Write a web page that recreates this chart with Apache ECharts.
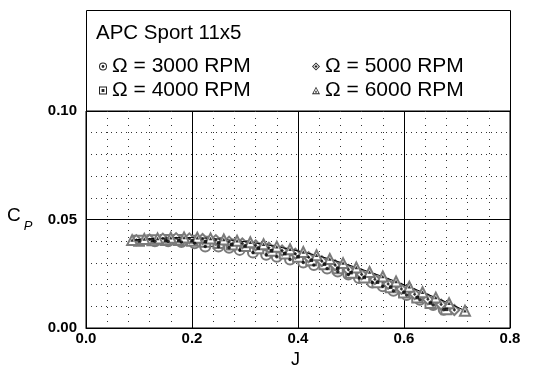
<!DOCTYPE html>
<html>
<head>
<meta charset="utf-8">
<script src="https://cdn.jsdelivr.net/npm/echarts@6/dist/echarts.min.js"></script>
<style>html,body{margin:0;padding:0;background:#fff}#c{width:533px;height:376px}</style>
</head>
<body>
<div id="c"></div>
<script>
var titleText = 'APC Sport 11x5';
var seriesNames = ['Ω = 3000 RPM', 'Ω = 4000 RPM', 'Ω = 5000 RPM', 'Ω = 6000 RPM'];
var xTicks = [0.0, 0.2, 0.4, 0.6, 0.8];
var yTicks = [0.00, 0.05, 0.10];

var j3000 = [0.13,0.155,0.18,0.205,0.225,0.25,0.27,0.29,0.315,0.34,0.36,0.385,0.41,0.43,0.455,0.475,0.495,0.515,0.54,0.56,0.58,0.605,0.63,0.655,0.675];
var cp3000 = [0.0400,0.0400,0.0396,0.0390,0.0376,0.0376,0.0370,0.0360,0.0348,0.0338,0.0328,0.0316,0.0302,0.0290,0.0274,0.0260,0.0246,0.0230,0.0210,0.0192,0.0172,0.0152,0.0130,0.0106,0.0084];

var j4000 = [0.10,0.125,0.15,0.175,0.20,0.225,0.25,0.275,0.30,0.325,0.35,0.375,0.40,0.425,0.45,0.475,0.50,0.525,0.55,0.575,0.60,0.625,0.65,0.68];
var cp4000 = [0.0402,0.0404,0.0405,0.0405,0.0402,0.0398,0.0392,0.0385,0.0378,0.0368,0.0356,0.0343,0.0328,0.0312,0.0294,0.0275,0.0255,0.0233,0.0211,0.0188,0.0164,0.0140,0.0115,0.0086];

var j5000 = [0.095,0.12,0.145,0.17,0.195,0.22,0.245,0.27,0.295,0.32,0.345,0.37,0.395,0.42,0.445,0.47,0.495,0.52,0.545,0.57,0.595,0.62,0.645,0.67,0.695];
var cp5000 = [0.0405,0.0408,0.0412,0.0414,0.0413,0.0410,0.0405,0.0398,0.0390,0.0381,0.0370,0.0357,0.0342,0.0326,0.0308,0.0289,0.0268,0.0247,0.0225,0.0203,0.0180,0.0156,0.0132,0.0108,0.0083];

var j6000 = [0.087,0.11,0.135,0.16,0.185,0.21,0.235,0.26,0.285,0.31,0.335,0.36,0.385,0.41,0.435,0.46,0.485,0.51,0.535,0.56,0.585,0.61,0.635,0.66,0.685,0.715];
var cp6000 = [0.0405,0.0410,0.0413,0.0416,0.0417,0.0416,0.0413,0.0408,0.0402,0.0395,0.0386,0.0375,0.0363,0.0350,0.0335,0.0318,0.0299,0.0279,0.0258,0.0237,0.0214,0.0190,0.0165,0.0140,0.0114,0.0080];

var FONT = '"Liberation Sans", Arial, sans-serif';

function pairs(xs, ys) { return xs.map(function (x, i) { return [x, ys[i]]; }); }

var legendIcons = [
  'path://M10,0A10,10,0,1,1,9.99,0ZM10,2.5A7.5,7.5,0,1,0,10.01,2.5ZM10,6.5A3.5,3.5,0,1,1,9.99,6.5Z',
  'path://M0,0H20V20H0ZM2.5,2.5V17.5H17.5V2.5ZM6.5,6.5H13.5V13.5H6.5Z',
  'path://M10,0L20,10L10,20L0,10ZM10,3L3,10L10,17L17,10ZM10,6L14,10L10,14L6,10Z',
  'path://M10,0L20,19L0,19ZM10,4L3.5,16.5L16.5,16.5ZM10,9L13,14.5L7,14.5Z'
];
var outlineSymbols = ['emptyCircle', 'emptyRect', 'emptyDiamond', 'emptyTriangle'];
var dotSymbols = ['circle', 'rect', 'diamond', 'triangle'];
var dataSets = [pairs(j3000, cp3000), pairs(j4000, cp4000), pairs(j5000, cp5000), pairs(j6000, cp6000)];

var series = [];
dataSets.forEach(function (d, i) {
  series.push({
    name: seriesNames[i], type: 'line', data: d, symbol: outlineSymbols[i], symbolSize: 10,
    showAllSymbol: true,
    itemStyle: { color: '#7a7a7a', borderWidth: 1.6 },
    lineStyle: { color: '#000', width: 1 },
    z: 3 + i, animation: false
  });
});
dataSets.forEach(function (d, i) {
  series.push({
    name: seriesNames[i] + ' c', type: 'scatter', data: d, symbol: dotSymbols[i], symbolSize: 3.5,
    itemStyle: { color: '#000' }, z: 10, animation: false, silent: true
  });
});

var legendCommon = {
  orient: 'vertical', itemWidth: 8, itemHeight: 8, itemGap: 3, padding: 5,
  textStyle: { fontFamily: FONT, fontSize: 21, color: '#000' },
  itemStyle: { color: '#222', borderWidth: 0 },
  selectedMode: false
};

var chart = echarts.init(document.getElementById('c'));
chart.setOption({
  animation: false,
  backgroundColor: '#fff',
  grid: { left: 86, right: 23, top: 111, bottom: 48, show: true, borderColor: '#000', borderWidth: 1 },
  xAxis: {
    type: 'value', min: xTicks[0], max: xTicks[xTicks.length - 1], interval: 0.2,
    axisLine: { lineStyle: { color: '#000' } }, axisTick: { show: false },
    axisLabel: { formatter: function (v) { return v.toFixed(1); }, fontFamily: FONT, fontSize: 15, fontWeight: 'bold', color: '#000', margin: 3 },
    splitLine: { lineStyle: { color: '#000', width: 1 } },
    minorTick: { show: false, splitNumber: 5 },
    minorSplitLine: { show: true, lineStyle: { color: '#333', type: [1, 6], width: 1 } }
  },
  yAxis: {
    type: 'value', min: yTicks[0], max: yTicks[yTicks.length - 1], interval: 0.05,
    axisLine: { show: true, lineStyle: { color: '#000' } }, axisTick: { show: false },
    axisLabel: { formatter: function (v) { return v.toFixed(2); }, fontFamily: FONT, fontSize: 15, fontWeight: 'bold', color: '#000', margin: 9 },
    splitLine: { lineStyle: { color: '#000', width: 1 } },
    minorTick: { show: false, splitNumber: 5 },
    minorSplitLine: { show: true, lineStyle: { color: '#333', type: [1, 4], width: 1 } }
  },
  legend: [
    Object.assign({ left: 94, top: 51, data: [
      { name: seriesNames[0], icon: legendIcons[0] },
      { name: seriesNames[1], icon: legendIcons[1] }
    ] }, legendCommon),
    Object.assign({ left: 307, top: 51, data: [
      { name: seriesNames[2], icon: legendIcons[2] },
      { name: seriesNames[3], icon: legendIcons[3] }
    ] }, legendCommon)
  ],
  graphic: [
    { type: 'rect', shape: { x: 86.5, y: 10.5, width: 424, height: 101 }, style: { fill: 'none', stroke: '#000', lineWidth: 1 }, z: -1 },
    { type: 'text', x: 96, y: 23, style: { text: titleText, font: '20.5px ' + FONT, fill: '#000' } },
    { type: 'text', x: 291, y: 351, style: { text: 'J', font: '18px ' + FONT, fill: '#000' } },
    { type: 'text', x: 7, y: 206, style: { text: '{a|C}{b|P}', rich: {
      a: { fontFamily: FONT, fontSize: 19, fill: '#000', verticalAlign: 'top' },
      b: { fontFamily: FONT, fontSize: 13, fontStyle: 'italic', fill: '#000', padding: [14, 0, 0, 3] }
    } } }
  ],
  series: series
});
</script>
</body>
</html>
